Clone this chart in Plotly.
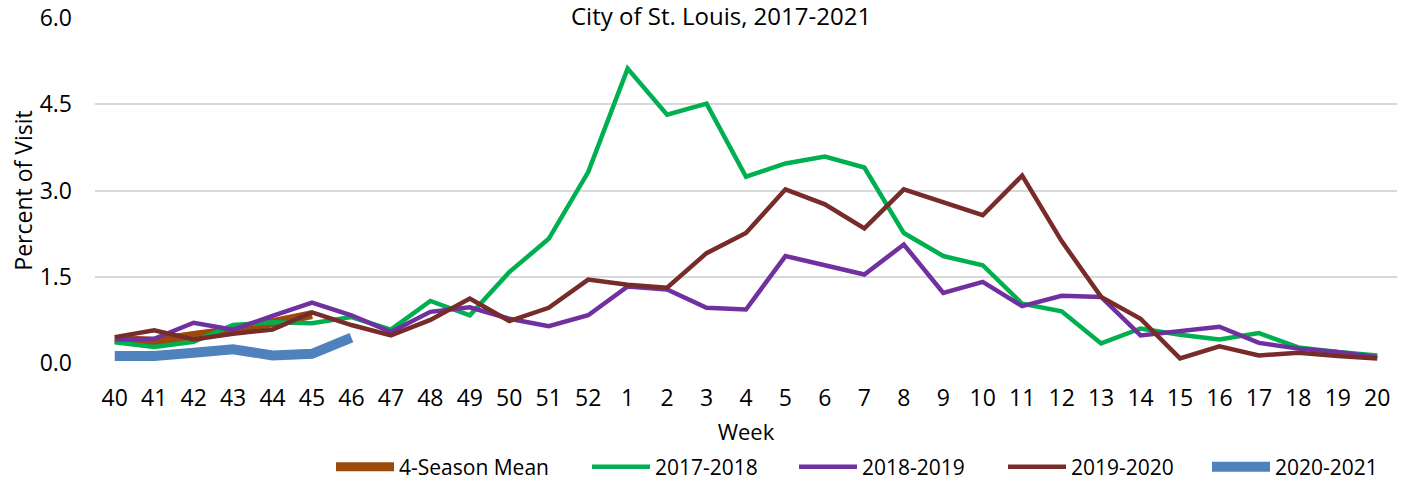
import plotly.graph_objects as go

weeks = ["40", "41", "42", "43", "44", "45", "46", "47", "48", "49", "50", "51", "52",
         "1", "2", "3", "4", "5", "6", "7", "8", "9", "10", "11", "12", "13", "14",
         "15", "16", "17", "18", "19", "20"]

mean_4season = [0.41, 0.38, 0.48, 0.57, 0.70, 0.84]

s2017_2018 = [0.36, 0.28, 0.37, 0.66, 0.71, 0.69, 0.80, 0.58, 1.08, 0.83, 1.58, 2.16, 3.32,
              5.12, 4.32, 4.51, 3.24, 3.47, 3.59, 3.40, 2.26, 1.86, 1.70, 1.03, 0.90, 0.34,
              0.60, 0.49, 0.41, 0.52, 0.27, 0.19, 0.13]

s2018_2019 = [0.41, 0.42, 0.70, 0.58, 0.82, 1.05, 0.83, 0.54, 0.89, 0.97, 0.77, 0.64, 0.83,
              1.33, 1.28, 0.96, 0.93, 1.86, 1.70, 1.54, 2.06, 1.22, 1.41, 0.99, 1.17, 1.15,
              0.48, 0.55, 0.63, 0.35, 0.25, 0.19, 0.10]

s2019_2020 = [0.45, 0.57, 0.41, 0.51, 0.58, 0.88, 0.66, 0.48, 0.75, 1.12, 0.73, 0.96, 1.45,
              1.36, 1.31, 1.91, 2.26, 3.02, 2.76, 2.34, 3.02, 2.80, 2.57, 3.26, 2.12, 1.15,
              0.77, 0.08, 0.29, 0.13, 0.18, 0.12, 0.08]

s2020_2021 = [0.12, 0.12, 0.18, 0.24, 0.13, 0.16, 0.44]

y_ticks = [0.0, 1.5, 3.0, 4.5, 6.0]
y_ticklabels = ["0.0", "1.5", "3.0", "4.5", "6.0"]

title_text = "City of St. Louis, 2017-2021"

FONT = "Open Sans"

series = [
    ("4-Season Mean", mean_4season, "#9c4a0a", 9),
    ("2017-2018", s2017_2018, "#00b050", 4.5),
    ("2018-2019", s2018_2019, "#7030a0", 4.5),
    ("2019-2020", s2019_2020, "#772c2a", 4.5),
    ("2020-2021", s2020_2021, "#4f81bd", 10),
]

# left edge (px) of each legend entry's line sample
legend_starts = [337, 593, 800, 1009, 1213]
legend_names = ["legend", "legend2", "legend3", "legend4", "legend5"]

fig = go.Figure()
for (name, vals, color, w), lg in zip(series, legend_names):
    fig.add_trace(go.Scatter(
        x=weeks[:len(vals)], y=vals, mode="lines", name=name,
        line=dict(color=color, width=w),
        legend=lg,
        hoverinfo="x+y+name",
    ))

W, H = 1411, 480
PT, PB = 18, 363
PH = PB - PT
legend_layout = {}
for lg, x0 in zip(legend_names, legend_starts):
    legend_layout[lg] = dict(
        orientation="h", xref="container", yref="container",
        x=(x0 - 6) / W, xanchor="left", y=1 - 467 / H, yanchor="middle",
        font=dict(family=FONT, size=21, color="#000000"),
        itemwidth=58, bgcolor="rgba(0,0,0,0)",
    )

fig.update_layout(
    width=W, height=H,
    margin=dict(l=95, r=14, t=PT, b=H - PB, autoexpand=False),
    paper_bgcolor="white", plot_bgcolor="white",
    font=dict(family=FONT, color="#000000"),
    showlegend=True,
    xaxis=dict(
        type="category", categoryorder="array", categoryarray=weeks,
        range=[-0.5, 32.5], automargin=False,
        showgrid=False, showline=False, zeroline=False, ticks="",
        tickfont=dict(family=FONT, size=23, color="#000000"),
        ticklabelstandoff=19,
        title=dict(text="Week", font=dict(family=FONT, size=22, color="#000000"), standoff=15),
    ),
    yaxis=dict(
        range=[0, 6], tickvals=y_ticks, ticktext=y_ticklabels, automargin=False,
        showgrid=True, gridcolor="#d9d9d9", gridwidth=2,
        zeroline=False, showline=False, ticks="",
        tickfont=dict(family=FONT, size=23, color="#000000"),
        ticklabelstandoff=22,
        title=dict(text="Percent of Visit", font=dict(family=FONT, size=23, color="#000000"), standoff=0),
    ),
    annotations=[dict(
        text=title_text, xref="paper", yref="paper", x=(721 - 95) / 1302, y=1 + (PT - 15) / PH,
        xanchor="center", yanchor="middle", showarrow=False,
        font=dict(family=FONT, size=24, color="#000000"),
    )],
    **legend_layout,
)

fig.write_html(
    "out.html",
    config={"displayModeBar": False},
    post_script="document.body.style.margin='0';document.body.style.overflow='hidden';",
)
